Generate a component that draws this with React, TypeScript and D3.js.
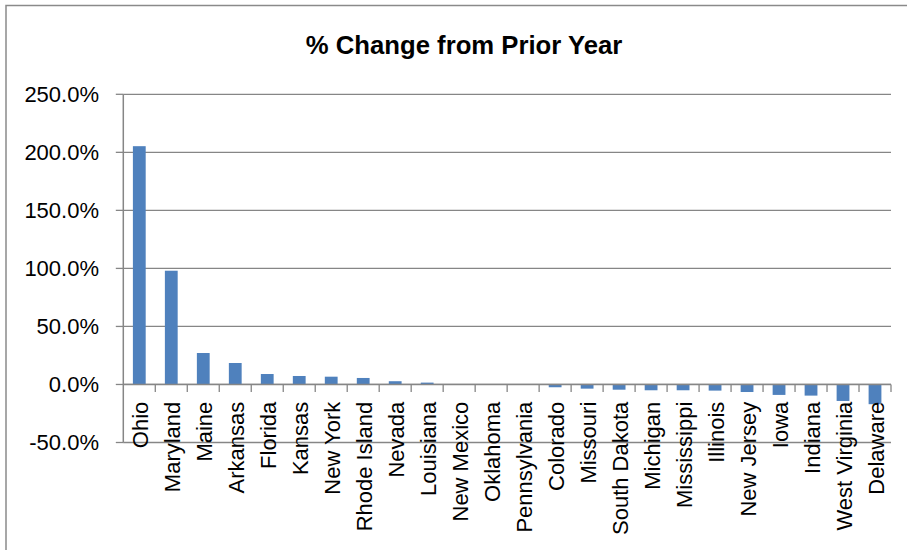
import React from "react";
import * as d3 from "d3";

const states: string[] = [
  "Ohio", "Maryland", "Maine", "Arkansas", "Florida", "Kansas", "New York",
  "Rhode Island", "Nevada", "Louisiana", "New Mexico", "Oklahoma", "Pennsylvania",
  "Colorado", "Missouri", "South Dakota", "Michigan", "Mississippi", "Illinois",
  "New Jersey", "Iowa", "Indiana", "West Virginia", "Delaware",
];

// Percent change from the prior year
const pctChange: number[] = [
  205.3, 98.0, 27.1, 18.5, 9.0, 7.3, 6.7, 5.6, 2.8, 1.6, 0.2, 0.1, -0.4,
  -2.4, -3.6, -4.5, -5.0, -5.0, -5.3, -6.5, -9.0, -9.6, -14.2, -17.0,
];

const yTicks: number[] = [-50, 0, 50, 100, 150, 200, 250];

const title = "% Change from Prior Year";

const W = 907;
const H = 550;
const plotLeft = 123.3;
const plotRight = 891;
const plotTop = 94.3;
const plotBottom = 442.5;

const font = "'Liberation Sans', Arial, sans-serif";
const gridColor = "#868686";
const barColor = "#4F81BD";

export default function App() {
  const x = d3
    .scaleBand<string>()
    .domain(states)
    .range([plotLeft, plotRight])
    .paddingInner(0.6)
    .paddingOuter(0.3);

  const band = d3.scaleBand<string>().domain(states).range([plotLeft, plotRight]);

  const y = d3.scaleLinear().domain([-50, 250]).range([plotBottom, plotTop]);
  const y0 = y(0);

  const fmt = (v: number) => `${v.toFixed(1)}%`;

  return (
    <svg
      width={W}
      height={H}
      style={{ position: "absolute", left: 0, top: 0, background: "#fff" }}
      fontFamily={font}
    >
      <rect x={0} y={0} width={W} height={H} fill="#fff" />
      {/* chart frame */}
      <rect
        x={6}
        y={5.5}
        width={W + 20}
        height={H + 20}
        fill="none"
        stroke="#8a8a8a"
        strokeWidth={1.5}
      />

      <text
        x={464}
        y={54}
        textAnchor="middle"
        fontSize={25.7}
        fontWeight="bold"
        fill="#000"
      >
        {title}
      </text>

      {/* horizontal gridlines and value ticks */}
      {yTicks.map((t) => (
        <g key={t}>
          <line
            x1={plotLeft}
            x2={plotRight}
            y1={y(t)}
            y2={y(t)}
            stroke={gridColor}
            strokeWidth={1.3}
          />
          <line
            x1={plotLeft - 7.5}
            x2={plotLeft}
            y1={y(t)}
            y2={y(t)}
            stroke={gridColor}
            strokeWidth={1.3}
          />
          <text
            x={99}
            y={y(t) + 7.5}
            textAnchor="end"
            fontSize={22}
            fill="#000"
          >
            {fmt(t)}
          </text>
        </g>
      ))}

      {/* value axis */}
      <line
        x1={plotLeft}
        x2={plotLeft}
        y1={plotTop}
        y2={plotBottom}
        stroke={gridColor}
        strokeWidth={1.5}
      />

      {/* bars */}
      {states.map((s, i) => {
        const v = pctChange[i];
        const top = Math.min(y(v), y0);
        const h = Math.abs(y(v) - y0);
        return (
          <rect
            key={s}
            x={x(s)}
            y={top}
            width={x.bandwidth()}
            height={h}
            fill={barColor}
          />
        );
      })}

      {/* category axis at zero */}
      <line
        x1={plotLeft}
        x2={plotRight}
        y1={y0}
        y2={y0}
        stroke={gridColor}
        strokeWidth={1.5}
      />
      {states.map((s) => (
        <line
          key={`tick-${s}`}
          x1={(band(s) ?? 0) + band.bandwidth()}
          x2={(band(s) ?? 0) + band.bandwidth()}
          y1={y0}
          y2={y0 + 7.5}
          stroke={gridColor}
          strokeWidth={1.3}
        />
      ))}

      {/* category labels */}
      {states.map((s) => {
        const cx = (band(s) ?? 0) + band.bandwidth() / 2;
        return (
          <text
            key={`lab-${s}`}
            transform={`translate(${cx + 8.5},${401.7}) rotate(-90)`}
            textAnchor="end"
            fontSize={22}
            fill="#000"
          >
            {s}
          </text>
        );
      })}
    </svg>
  );
}
